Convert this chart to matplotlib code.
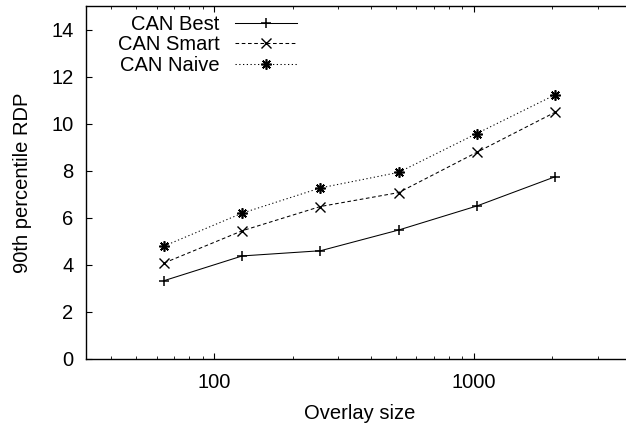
import numpy as np
import matplotlib
matplotlib.use("Agg")
import matplotlib.pyplot as plt
from matplotlib.ticker import LogLocator, FixedLocator, NullFormatter

plt.rcParams["font.family"] = ["Liberation Sans", "DejaVu Sans"]

# ---------------------------
# Data
# ---------------------------

overlay_size = [64, 128, 256, 512, 1024, 2048]

can_best = [3.33, 4.38, 4.60, 5.48, 6.50, 7.74]
can_smart = [4.08, 5.45, 6.48, 7.07, 8.78, 10.48]
can_naive = [4.80, 6.20, 7.27, 7.93, 9.58, 11.22]

x_ticks = [100, 1000]
x_tick_labels = ["100", "1000"]
y_ticks = [0, 2, 4, 6, 8, 10, 12, 14]

FS = 14.5

# ---------------------------
# Figure
# ---------------------------

fig = plt.figure(figsize=(6.26, 4.25), dpi=100)
ax = fig.add_axes([86 / 626, 1 - 359 / 425, 547 / 626, 353 / 425])

lw = 0.75
asterisk = (8, 2, 0)

ax.plot(overlay_size, can_best, color="black", lw=lw, linestyle="-",
        marker="+", ms=7, mew=1.1, label="CAN Best")
ax.plot(overlay_size, can_smart, color="black", lw=lw, linestyle=(0, (3.5, 2.5)),
        marker="x", ms=6.5, mew=1.0, label="CAN Smart")
ax.plot(overlay_size, can_naive, color="black", lw=lw, linestyle=(0, (1.2, 2.4)),
        marker=asterisk, ms=7.5, mew=1.2, label="CAN Naive")

ax.set_xscale("log")
ax.set_xlim(32, 4096)
ax.set_ylim(0, 15)

ax.xaxis.set_major_locator(FixedLocator(x_ticks))
ax.set_xticklabels(x_tick_labels)
ax.xaxis.set_minor_locator(LogLocator(base=10, subs=np.arange(2, 10)))
ax.xaxis.set_minor_formatter(NullFormatter())
ax.set_yticks(y_ticks)

ax.tick_params(axis="both", which="both", direction="in", labelsize=FS, colors="black")
ax.tick_params(axis="x", which="both", top=True, pad=10)
ax.tick_params(axis="y", which="both", right=False, pad=9)
ax.tick_params(which="major", length=4, width=0.8)
ax.tick_params(which="minor", length=2.2, width=0.6)

for s in ax.spines.values():
    s.set_linewidth(1.0)
ax.spines["right"].set_visible(False)

ax.set_xlabel("Overlay size", fontsize=FS, labelpad=9)
ax.set_ylabel("90th percentile RDP", fontsize=FS, labelpad=14)

ax.legend(loc="upper right", bbox_to_anchor=((297 - 86) / 547, (359 - 15) / 353),
          frameon=False, markerfirst=False, fontsize=FS, handlelength=3.1,
          handletextpad=0.75, labelspacing=0.07, borderpad=0, borderaxespad=0)

fig.savefig("out.png", dpi=100)
